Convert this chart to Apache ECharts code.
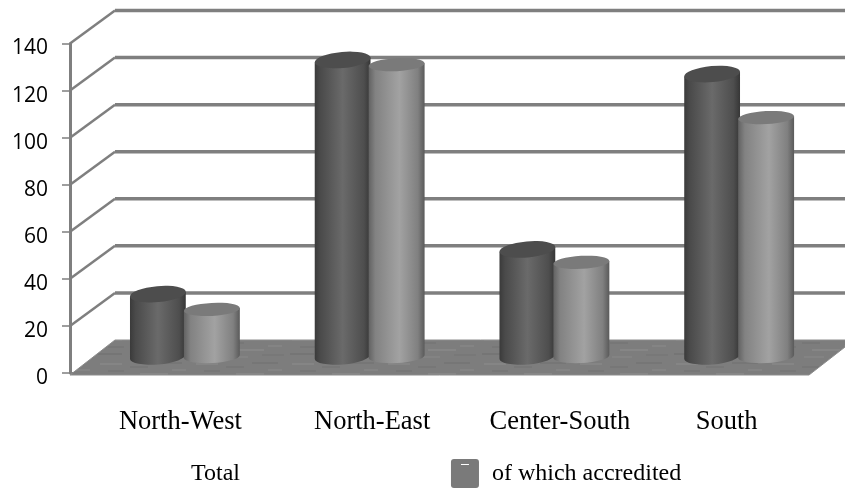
<!DOCTYPE html>
<html><head><meta charset="utf-8">
<style>html,body{margin:0;padding:0;background:#fff}#c{width:845px;height:488px}</style>
<script src="https://cdn.jsdelivr.net/npm/echarts@6/dist/echarts.min.js"></script></head>
<body><div id="c"></div>
<script>
const categories = ['North-West','North-East','Center-South','South'];
const total = [26.5,126,45.5,120];
const accredited = [20,124,40,101.5];
const yTicks = [20,40,60,80,100,120,140];
const seriesNames = ['Total','of which accredited'];
const labelShift = [36,50,56,20];

const DX=45, DY=-33, MX=22.5, MY=-16.5, R=28;
function cylinderRaw(shift,ry,rot,side,top){
  return function(params,api){
    const i=api.value(0), v=api.value(1);
    const base=api.coord([i,0]), head=api.coord([i,v]);
    const cx=base[0]+MX+shift, by=base[1]+MY, ty=head[1]+MY;
    const t=rot*Math.PI/180, ex=R*Math.cos(t), ey=R*Math.sin(t);
    const sideFill={type:'linear',global:true,x:cx-R,y:0,x2:cx+R,y2:0,colorStops:side};
    const sideD=`M ${cx-ex} ${ty-ey} L ${cx-ex} ${by-ey} A ${R} ${ry} ${rot} 0 0 ${cx+ex} ${by+ey} L ${cx+ex} ${ty+ey} Z`;
    const topD=`M ${cx-ex} ${ty-ey} A ${R} ${ry} ${rot} 0 1 ${cx+ex} ${ty+ey} A ${R} ${ry} ${rot} 0 1 ${cx-ex} ${ty-ey} Z`;
    return {type:'group',children:[
      {type:'path',shape:{pathData:sideD},style:{fill:sideFill}},
      {type:'path',shape:{pathData:topD},style:{fill:top}}
    ]};
  };
}
function floorTexture(){
  const c=document.createElement('canvas');c.width=96;c.height=24;
  const g=c.getContext('2d');g.fillStyle='#7d7d7d';g.fillRect(0,0,96,24);
  const marks=[[4,3,22,'#858585'],[34,6,18,'#777777'],[60,2,26,'#767676'],[12,10,16,'#777777'],[44,13,28,'#868686'],[76,9,14,'#848484'],[2,17,24,'#757575'],[36,20,20,'#838383'],[70,18,22,'#787878']];
  marks.forEach(m=>{g.fillStyle=m[3];g.fillRect(m[0],m[1],m[2],2);});
  return c;
}
const darkStops=[{offset:0,color:'#3a3a3a'},{offset:.1,color:'#4a4a4a'},{offset:.5,color:'#6a6a6a'},{offset:.88,color:'#4e4e4e'},{offset:1,color:'#363636'}];
const lightStops=[{offset:0,color:'#626262'},{offset:.12,color:'#828282'},{offset:.55,color:'#a2a2a2'},{offset:.88,color:'#808080'},{offset:1,color:'#5a5a5a'}];
const GRID='#7f7f7f';

const chart=echarts.init(document.getElementById('c'),null,{renderer:'canvas'});
chart.setOption({
  animation:false,
  backgroundColor:'#ffffff',
  grid:{left:70,right:36,top:43.5,bottom:115},
  legend:{left:150,top:459,padding:0,itemWidth:28,itemHeight:29,itemGap:211,selectedMode:false,
    textStyle:{fontFamily:'Liberation Serif',fontSize:24,color:'#000',padding:[4,0,0,8]},
    data:[{name:seriesNames[0],icon:'rect',itemStyle:{color:'rgba(255,255,255,0)'}},
          {name:seriesNames[1],icon:'path://M3 0H25Q28 0 28 3V26Q28 29 25 29H3Q0 29 0 26V3Q0 0 3 0Z M10 5V6H18V5Z',itemStyle:{color:'#7a7a7a'}}]},
  xAxis:{type:'category',data:categories,axisTick:{show:false},
    axisLine:{lineStyle:{color:GRID,width:2}},
    axisLabel:{margin:36,interval:0,fontFamily:'Liberation Serif',fontSize:26.5,color:'#000',
      formatter:(v,i)=>`{c${i}|${v}}`,
      rich:Object.fromEntries(labelShift.map((s,i)=>[`c${i}`,{padding:[0,0,0,s],fontFamily:'Liberation Serif',fontSize:26.5,color:'#000'}]))}},
  yAxis:{type:'value',min:0,max:140,interval:20,splitLine:{show:false},
    axisLine:{show:true,lineStyle:{color:GRID,width:3}},
    axisTick:{show:true,length:8,lineStyle:{color:GRID,width:1.5}},
    axisLabel:{margin:22,fontFamily:'Open Sans',fontSize:21,color:'#000',verticalAlign:'top',lineHeight:10}},
  series:[
    {type:'custom',name:'walls',z:1,silent:true,clip:false,data:yTicks.map(v=>[0,v]),
      encode:{x:0,y:1},
      renderItem(p,api){
        const a=api.coord([0,api.value(1)]), cs=p.coordSys;
        const x0=cs.x, x1=cs.x+cs.width+DX, y=a[1];
        return {type:'group',children:[
          {type:'line',shape:{x1:x0,y1:y,x2:x0+DX,y2:y+DY},style:{stroke:GRID,lineWidth:2.5}},
          {type:'line',shape:{x1:x0+DX,y1:y+DY,x2:x1,y2:y+DY},style:{stroke:GRID,lineWidth:3.5}}
        ]};
      }},
    {type:'custom',name:'floor',z:2,silent:true,clip:false,data:[[0,0]],encode:{x:0,y:1},
      renderItem(p,api){
        const a=api.coord([0,0]), cs=p.coordSys, x0=cs.x, x1=cs.x+cs.width, y=a[1]+2;
        return {type:'polygon',shape:{points:[[x0,y],[x0+DX,y+DY-2],[x1+DX,y+DY-2],[x1,y]]},
          style:{fill:{image:floorTexture(),repeat:'repeat'},stroke:'#8c8c8c',lineWidth:1}};
      }},
    {type:'custom',name:seriesNames[0],z:3,clip:false,encode:{x:0,y:1},
      data:total.map((v,i)=>[i,v]),renderItem:cylinderRaw(-27,8,-5,darkStops,'#4d4d4d')},
    {type:'custom',name:seriesNames[1],z:4,clip:false,encode:{x:0,y:1},
      data:accredited.map((v,i)=>[i,v]),renderItem:cylinderRaw(27,6.5,-3,lightStops,'#7a7a7a')}
  ]
});
</script></body></html>
